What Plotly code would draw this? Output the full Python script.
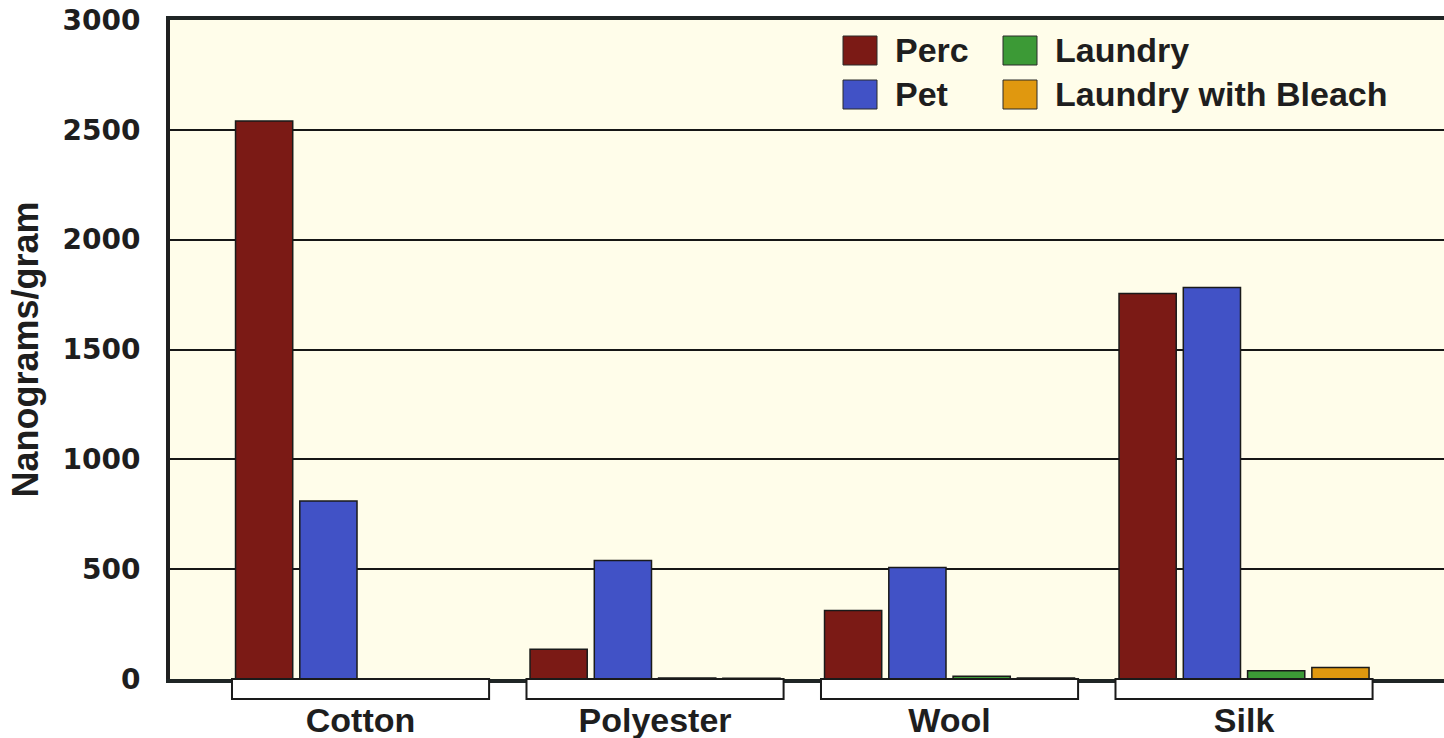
import plotly.graph_objects as go

# ---- data ----
categories = ["Cotton", "Polyester", "Wool", "Silk"]
series_names = ["Perc", "Pet", "Laundry", "Laundry with Bleach"]
perc = [2540, 135, 312, 1755]
pet = [810, 540, 508, 1782]
laundry = [0, 5, 13, 38]
laundry_bleach = [0, 3, 4, 52]
y_ticks = [0, 500, 1000, 1500, 2000, 2500, 3000]
y_title = "Nanograms/gram"

series_values = [perc, pet, laundry, laundry_bleach]
colors = ["#7b1a15", "#4152c6", "#3c9a36", "#e0980f"]

# ---- layout geometry (page pixels; body margin removed) ----
W, H = 1444, 738
PLOT_L, PLOT_T, PLOT_B = 170, 20, 679
L, T, B, R = PLOT_L, PLOT_T, H - PLOT_B, 0
PW, PH = W - L - R, H - T - B

def px_x(px):
    return (px - PLOT_L) / PW

def px_y(py):
    return (PLOT_B - py) / PH

TXT = "#1e1e1e"
BOLD = dict(family="Liberation Sans, Arial, sans-serif", weight="bold", color=TXT)

fig = go.Figure()
for name, vals, col in zip(series_names, series_values, colors):
    fig.add_trace(go.Bar(
        name=name, x=categories, y=vals,
        marker=dict(color=col, line=dict(color="#1a1a1a", width=1.5)),
        showlegend=False,
    ))

shapes = []
# white label boxes under each category group
half = 0.4365
for i, _ in enumerate(categories):
    shapes.append(dict(type="rect", xref="x", yref="paper",
                       x0=i - half, x1=i + half, y0=-20 / PH, y1=0,
                       fillcolor="white", line=dict(color="#1a1a1a", width=2),
                       layer="above"))

# legend (two columns of large swatches)
annotations = []
leg_cols = [843, 1003]
leg_rows = [36, 80]
for k, (name, col) in enumerate(zip(series_names, colors)):
    cx = leg_cols[k // 2]
    ry = leg_rows[k % 2]
    shapes.append(dict(type="rect", xref="paper", yref="paper",
                       x0=px_x(cx), x1=px_x(cx + 34), y0=px_y(ry + 29), y1=px_y(ry),
                       fillcolor=col, line=dict(color="#2a2a2a", width=1)))
    annotations.append(dict(xref="paper", yref="paper", x=px_x(cx + 50), y=px_y(ry + 14),
                            text=name, showarrow=False, xanchor="left", yanchor="middle",
                            font=dict(size=34, **BOLD)))

fig.update_layout(
    width=W, height=H,
    margin=dict(l=L, r=R, t=T, b=B, autoexpand=False),
    paper_bgcolor="white",
    plot_bgcolor="#fffdea",
    barmode="group",
    bargap=0.127,
    bargroupgap=0.11,
    shapes=shapes,
    annotations=annotations,
    showlegend=False,
    xaxis=dict(
        range=[-0.647, 3.679],
        showline=True, linewidth=4, linecolor="#1f2525", mirror=True,
        ticks="", showgrid=False, zeroline=False,
        tickfont=dict(size=34, **BOLD),
        ticklabelstandoff=8,
        ticklabeloverflow="allow",
        fixedrange=True,
    ),
    yaxis=dict(
        range=[0, 3000],
        tickvals=y_ticks,
        showline=True, linewidth=4, linecolor="#1f1f1f",
        showgrid=True, gridcolor="#161616", gridwidth=2,
        zeroline=False, ticks="",
        tickfont=dict(size=28, family="DejaVu Sans, sans-serif", weight="bold", color=TXT),
        ticklabelstandoff=20,
        ticklabeloverflow="allow",
        title=dict(text=y_title, font=dict(size=36, **BOLD), standoff=14),
        fixedrange=True,
    ),
)

fig.write_html("out.html",
               config={"displayModeBar": False},
               post_script="document.body.style.margin='0';document.body.style.overflow='hidden';")
